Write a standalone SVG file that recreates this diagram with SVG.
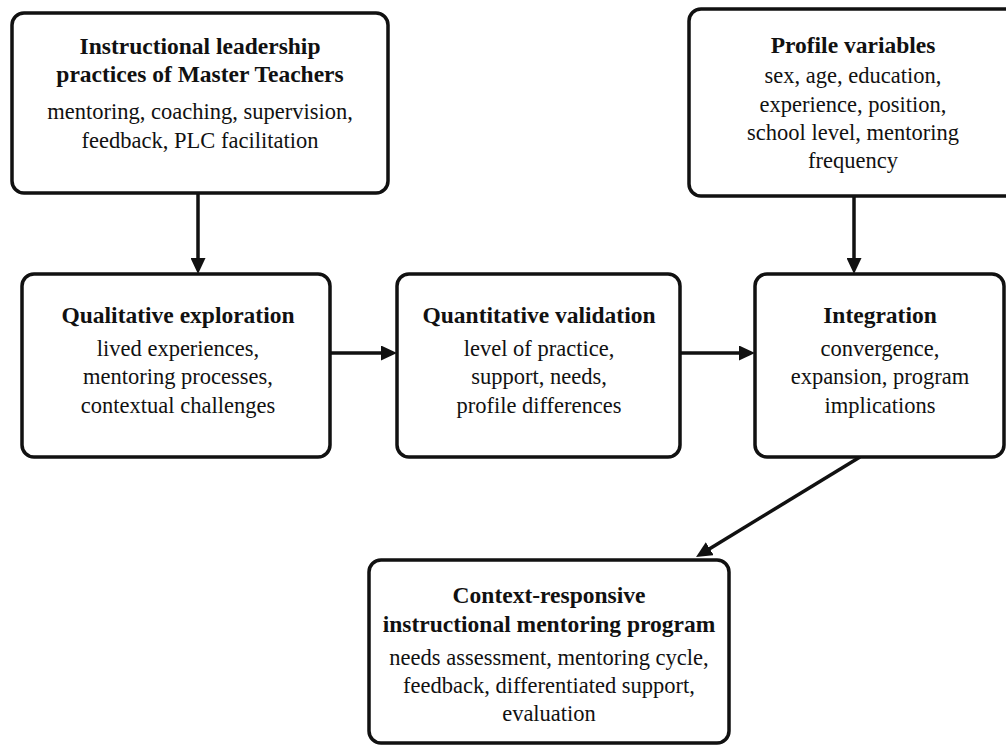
<svg xmlns="http://www.w3.org/2000/svg" width="1006" height="745" viewBox="0 0 1006 745">
<defs>
<style>
.box{fill:#ffffff;stroke:#111111;stroke-width:3.5}
text{font-family:'Liberation Serif','Tinos','DejaVu Serif',serif;fill:#111111;text-anchor:middle}
.t{font-weight:bold;font-size:23.5px}
.b{font-size:22.5px}
.c{stroke:#111111;stroke-width:3.5;fill:none;marker-end:url(#ah)}
</style>
<marker id="ah" markerUnits="userSpaceOnUse" markerWidth="16" markerHeight="15" refX="2" refY="7.5" orient="auto">
<path d="M0,0 L16,7.5 L0,15 z" fill="#111111"/>
</marker>
</defs>
<rect width="1006" height="745" fill="#ffffff"/>
<g id="connectors">
<line class="c" x1="198" y1="193" x2="198" y2="260"/>
<line class="c" x1="854" y1="196" x2="854" y2="260"/>
<line class="c" x1="330" y1="353" x2="383" y2="353"/>
<line class="c" x1="680" y1="353" x2="741" y2="353"/>
<line class="c" x1="860" y1="457" x2="708" y2="549.7"/>
</g>
<g id="instructional-leadership" font-family="Liberation Serif, serif">
<rect class="box" x="12" y="13" width="376" height="180" rx="12"/>
<text class="t" x="200" y="54">Instructional leadership</text>
<text class="t" x="200" y="82">practices of Master Teachers</text>
<text class="b" x="200" y="119">mentoring, coaching, supervision,</text>
<text class="b" x="200" y="148">feedback, PLC facilitation</text>
</g>
<g id="profile-variables">
<rect class="box" x="689" y="9" width="328" height="187" rx="12"/>
<text class="t" x="853" y="53">Profile variables</text>
<text class="b" x="853" y="83">sex, age, education,</text>
<text class="b" x="853" y="112">experience, position,</text>
<text class="b" x="853" y="140">school level, mentoring</text>
<text class="b" x="853" y="168">frequency</text>
</g>
<g id="qualitative-exploration">
<rect class="box" x="22" y="274" width="308" height="183" rx="12"/>
<text class="t" x="178" y="323">Qualitative exploration</text>
<text class="b" x="178" y="356">lived experiences,</text>
<text class="b" x="178" y="384">mentoring processes,</text>
<text class="b" x="178" y="413">contextual challenges</text>
</g>
<g id="quantitative-validation">
<rect class="box" x="397" y="274" width="283" height="183" rx="12"/>
<text class="t" x="539" y="323">Quantitative validation</text>
<text class="b" x="539" y="356">level of practice,</text>
<text class="b" x="539" y="384">support, needs,</text>
<text class="b" x="539" y="413">profile differences</text>
</g>
<g id="integration">
<rect class="box" x="755" y="274" width="249" height="183" rx="12"/>
<text class="t" x="880" y="323">Integration</text>
<text class="b" x="880" y="356">convergence,</text>
<text class="b" x="880" y="384">expansion, program</text>
<text class="b" x="880" y="413">implications</text>
</g>
<g id="mentoring-program">
<rect class="box" x="369" y="560" width="360" height="183" rx="12"/>
<text class="t" x="549" y="603">Context-responsive</text>
<text class="t" x="549" y="632">instructional mentoring program</text>
<text class="b" x="549" y="665">needs assessment, mentoring cycle,</text>
<text class="b" x="549" y="693">feedback, differentiated support,</text>
<text class="b" x="549" y="721">evaluation</text>
</g>
</svg>
